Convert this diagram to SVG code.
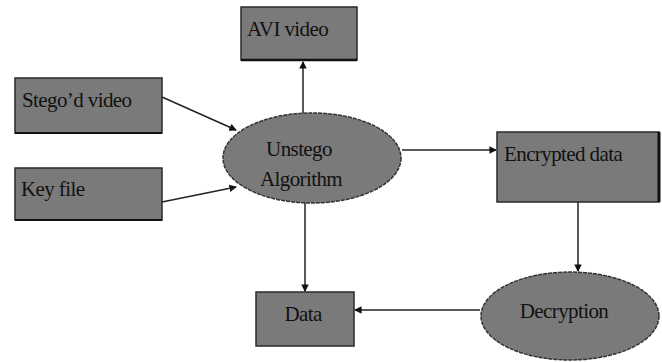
<svg xmlns="http://www.w3.org/2000/svg" width="662" height="362" viewBox="0 0 662 362">
<style>
.box{fill:#7a7a7a;stroke:#2a2a2a;stroke-width:1.5}
.ell{fill:#7a7a7a;stroke:#333;stroke-width:1.5;stroke-dasharray:4 1}
.t{font-family:'Liberation Serif','DejaVu Serif',serif;font-size:21px;letter-spacing:-0.6px;fill:#111}
.c{stroke:#222;stroke-width:1.5;fill:none;marker-end:url(#ah)}
</style>
<defs>
<marker id="ah" viewBox="0 0 8 8" refX="7" refY="4" markerWidth="5" markerHeight="5" orient="auto" markerUnits="strokeWidth">
<path d="M0,0 L8,4 L0,8 z" fill="#111"/>
</marker>
</defs>
<rect width="662" height="362" fill="#fff"/>
<g id="connectors">
<line class="c" x1="303" y1="113" x2="303" y2="62"/>
<line class="c" x1="162" y1="97" x2="236" y2="130"/>
<line class="c" x1="162" y1="202" x2="236" y2="187"/>
<line class="c" x1="402" y1="150" x2="496" y2="150"/>
<line class="c" x1="578" y1="202" x2="578" y2="271"/>
<line class="c" x1="305" y1="202" x2="305" y2="291"/>
<line class="c" x1="480" y1="310" x2="355" y2="310"/>
</g>
<g id="avi">
<rect class="box" x="241" y="7" width="116" height="53"/>
<line x1="241" y1="60" x2="357" y2="60" stroke="#111" stroke-width="2.5"/>
<text class="t" x="247" y="36">AVI video</text>
</g>
<g id="stego">
<rect class="box" x="15" y="78" width="147" height="55"/>
<line x1="15" y1="133" x2="162" y2="133" stroke="#111" stroke-width="2"/>
<text class="t" x="22" y="107">Stego’d video</text>
</g>
<g id="key">
<rect class="box" x="15" y="168" width="147" height="52"/>
<line x1="15" y1="220" x2="162" y2="220" stroke="#111" stroke-width="2"/>
<text class="t" x="21" y="196">Key file</text>
</g>
<g id="unstego">
<ellipse class="ell" cx="312" cy="158" rx="89" ry="45"/>
<text class="t" x="299" y="156" text-anchor="middle">Unstego</text>
<text class="t" x="301" y="186" text-anchor="middle">Algorithm</text>
</g>
<g id="encrypted">
<rect class="box" x="497" y="132" width="162" height="70"/>
<line x1="659" y1="132" x2="659" y2="202" stroke="#111" stroke-width="3"/>
<text class="t" x="504" y="161">Encrypted data</text>
</g>
<g id="decryption">
<ellipse class="ell" cx="570" cy="316" rx="89" ry="44"/>
<text class="t" x="564" y="318" text-anchor="middle">Decryption</text>
</g>
<g id="data">
<rect class="box" x="256" y="292" width="98" height="54"/>
<text class="t" x="303" y="321" text-anchor="middle">Data</text>
</g>
</svg>
